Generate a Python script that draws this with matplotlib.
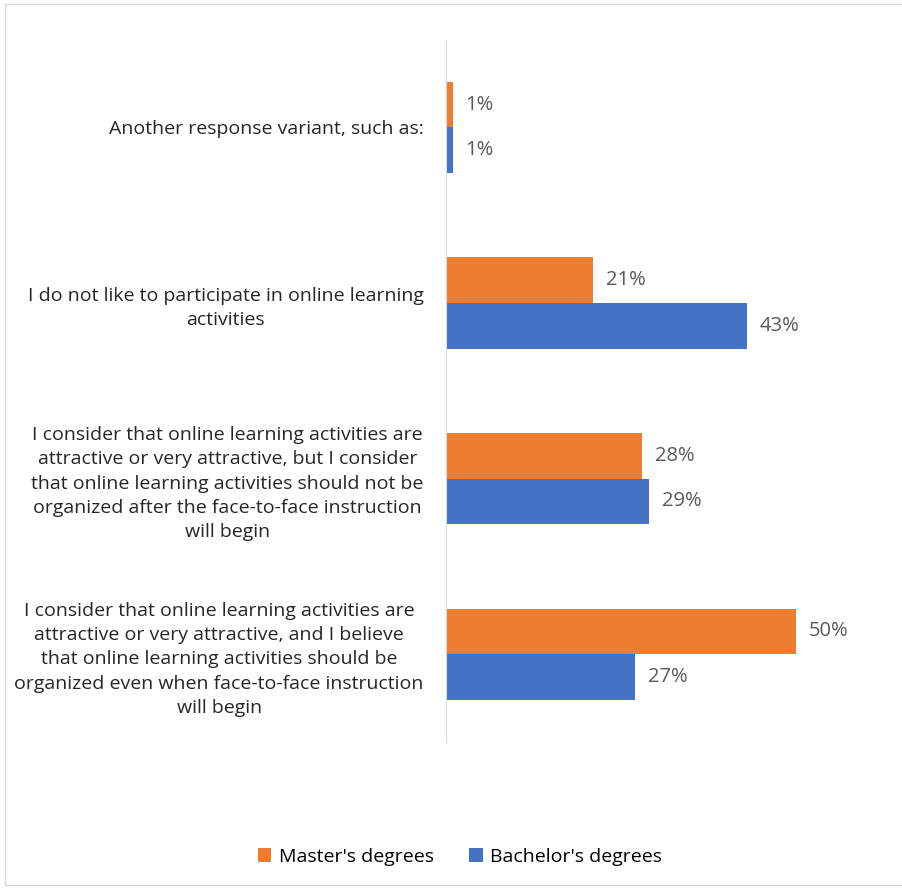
import matplotlib.pyplot as plt
from matplotlib.patches import Rectangle

categories = [
    "I consider that online learning activities are\nattractive or very attractive, and I believe\nthat online learning activities should be\norganized even when face-to-face instruction\nwill begin",
    "I consider that online learning activities are\nattractive or very attractive, but I consider\nthat online learning activities should not be\norganized after the face-to-face instruction\nwill begin",
    "I do not like to participate in online learning\nactivities",
    "Another response variant, such as:",
]
masters = [50, 28, 21, 1]
bachelors = [27, 29, 43, 1]

orange = "#ED7D31"
blue = "#4472C4"

plt.rcParams['font.family'] = ['Open Sans', 'DejaVu Sans']

fig = plt.figure(figsize=(9.02, 8.88), dpi=100)
ax = fig.add_axes([0.4945, 0.1644, 0.47, 0.791])

h = 0.26
y = list(range(len(categories)))
ax.barh([i + h / 2 for i in y], masters, height=h, color=orange, label="Master's degrees")
ax.barh([i - h / 2 for i in y], bachelors, height=h, color=blue, label="Bachelor's degrees")

for i in y:
    ax.text(masters[i] + 1.8, i + h / 2, f"{masters[i]}%", va="center", ha="left",
            fontsize=14.5, color="#595959")
    ax.text(bachelors[i] + 1.8, i - h / 2, f"{bachelors[i]}%", va="center", ha="left",
            fontsize=14.5, color="#595959")

ax.set_xlim(0, 60.5)
ax.set_ylim(-0.5, len(categories) - 0.5)
ax.set_yticks(y)
ax.set_yticklabels(categories, fontsize=14, color="#262626", linespacing=1.45,
                   multialignment="center")
ax.tick_params(axis="y", length=0, pad=16)
ax.set_xticks([])
for s in ["top", "right", "bottom"]:
    ax.spines[s].set_visible(False)
ax.spines["left"].set_color("#D9D9D9")

handles, labels = ax.get_legend_handles_labels()
fig.legend(handles, labels, loc="center", bbox_to_anchor=(0.51, 0.035), ncol=2,
           frameon=False, fontsize=14, handlelength=0.7, handleheight=0.7,
           columnspacing=1.8, handletextpad=0.4)

fig.patches.append(Rectangle((0.005, 0.003), 1.2, 0.993, transform=fig.transFigure,
                             fill=False, edgecolor="#D9D9D9", linewidth=1))

fig.savefig("out.png", dpi=100)
